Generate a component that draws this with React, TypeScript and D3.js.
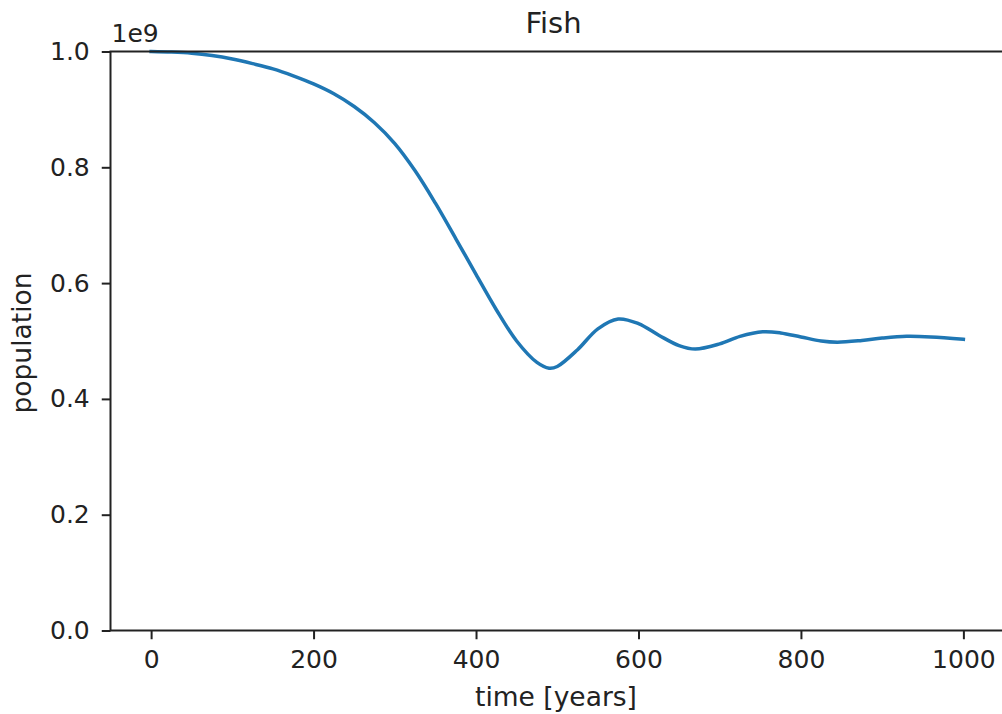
import React, { useEffect, useRef } from 'react';
import * as d3 from 'd3';

// time in years and fish population
const years = [
  0, 25, 50, 75, 100, 125, 150, 175, 200, 225, 250, 275, 300, 325, 350, 375,
  400, 425, 450, 475, 490, 500, 525, 550, 575, 600, 625, 650, 670, 700, 725,
  753, 775, 800, 825, 845, 875, 900, 930, 960, 1000,
];
const population = [
  1.0e9, 0.999e9, 0.997e9, 0.993e9, 0.987e9, 0.979e9, 0.970e9, 0.958e9, 0.944e9,
  0.927e9, 0.905e9, 0.877e9, 0.841e9, 0.794e9, 0.738e9, 0.677e9, 0.615e9,
  0.554e9, 0.500e9, 0.463e9, 0.453e9, 0.456e9, 0.485e9, 0.521e9, 0.538e9,
  0.530e9, 0.510e9, 0.492e9, 0.486e9, 0.495e9, 0.508e9, 0.516e9, 0.514e9,
  0.507e9, 0.500e9, 0.498e9, 0.501e9, 0.505e9, 0.508e9, 0.507e9, 0.503e9,
];
const xTicks = [0, 200, 400, 600, 800, 1000];
const yTicks = [0, 0.2e9, 0.4e9, 0.6e9, 0.8e9, 1.0e9];

const FONT = 'DejaVu Sans, sans-serif';

const App = () => {
  const svgRef = useRef<SVGSVGElement | null>(null);

  useEffect(() => {
    if (!svgRef.current) return;
    const svg = d3.select(svgRef.current);
    svg.selectAll('*').remove();

    const left = 110.5, right = 1004, top = 51.5, bottom = 630.5;

    const x = d3.scaleLinear().domain([-50, 1050]).range([left, right]);
    const y = d3.scaleLinear().domain([0, 1e9]).range([bottom, top]);

    const data = years.map((t, i) => ({ t, v: population[i] }));

    // the line
    svg.append('path')
      .datum(data)
      .attr('fill', 'none')
      .attr('stroke', '#1f77b4')
      .attr('stroke-width', 3.5)
      .attr('stroke-linejoin', 'round')
      .attr('stroke-linecap', 'square')
      .attr('d', d3.line<{ t: number; v: number }>()
        .x(d => x(d.t))
        .y(d => y(d.v))
        .curve(d3.curveCatmullRom.alpha(0.5)));

    // X axis
    const gx = svg.append('g')
      .attr('transform', `translate(0,${bottom})`)
      .call(d3.axisBottom(x)
        .tickValues(xTicks)
        .tickFormat(d3.format('d'))
        .tickSize(8.75)
        .tickPadding(10.5)
        .tickSizeOuter(0));
    gx.select('.domain').remove();
    gx.selectAll('line').attr('stroke', '#222').attr('stroke-width', 2);
    gx.selectAll('text').attr('fill', '#222').style('font-family', FONT).style('font-size', '25px');

    // Y axis
    const gy = svg.append('g')
      .attr('transform', `translate(${left},0)`)
      .call(d3.axisLeft(y)
        .tickValues(yTicks)
        .tickFormat(d => (+d / 1e9).toFixed(1))
        .tickSize(8.75)
        .tickPadding(12)
        .tickSizeOuter(0));
    gy.select('.domain').remove();
    gy.selectAll('line').attr('stroke', '#222').attr('stroke-width', 2);
    gy.selectAll('text').attr('fill', '#222').style('font-family', FONT).style('font-size', '25px');

    // spines
    svg.append('rect')
      .attr('x', left)
      .attr('y', top)
      .attr('width', right - left)
      .attr('height', bottom - top)
      .attr('fill', 'none')
      .attr('stroke', '#222')
      .attr('stroke-width', 2);

    // offset text, title, labels
    svg.append('text')
      .attr('x', left + 1)
      .attr('y', 42)
      .attr('fill', '#222')
      .style('font-family', FONT)
      .style('font-size', '25px')
      .text('1e9');

    svg.append('text')
      .attr('x', 553.5)
      .attr('y', 33)
      .attr('text-anchor', 'middle')
      .attr('fill', '#222')
      .style('font-family', FONT)
      .style('font-size', '29px')
      .text('Fish');

    svg.append('text')
      .attr('x', 556)
      .attr('y', 706)
      .attr('text-anchor', 'middle')
      .attr('fill', '#222')
      .style('font-family', FONT)
      .style('font-size', '26.5px')
      .text('time [years]');

    svg.append('text')
      .attr('transform', 'translate(31,343) rotate(-90)')
      .attr('text-anchor', 'middle')
      .attr('fill', '#222')
      .style('font-family', FONT)
      .style('font-size', '26.5px')
      .text('population');
  }, []);

  return (
    <svg
      ref={svgRef}
      width={1002}
      height={714}
      style={{ position: 'absolute', left: 0, top: 0, background: '#fff' }}
    />
  );
};

export default App;
